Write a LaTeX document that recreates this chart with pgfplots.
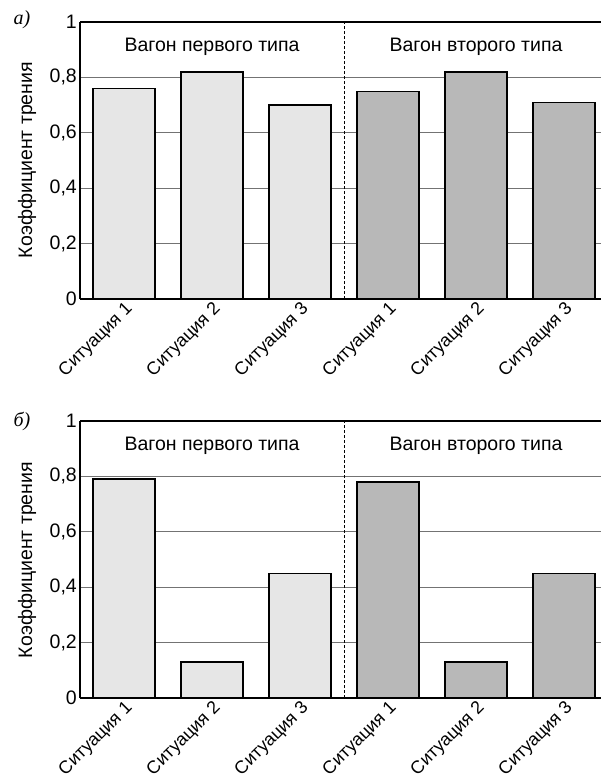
\documentclass[border=0pt]{standalone}
\usepackage{fontspec}
\setmainfont{Liberation Sans}
\newfontfamily\serifit{Liberation Serif}
\usepackage{pgfplots}
\pgfplotsset{compat=1.18}
\definecolor{lightbar}{HTML}{E6E6E6}
\definecolor{darkbar}{HTML}{B8B8B8}
\newcommand{\bigf}{\fontsize{19.5}{22}\selectfont}
\pgfplotsset{
  common/.style={
    scale only axis, width=521pt, height=277pt,
    xmin=-0.5, xmax=5.42, ymin=0, ymax=1,
    axis lines=left,
    axis line style={-, line width=1.5pt},
    clip=false,
    ytick={0,0.2,0.4,0.6,0.8,1},
    yticklabels={0,{0,2},{0,4},{0,6},{0,8},1},
    xtick={0,1,2,3,4,5},
    xticklabels={Ситуация 1,Ситуация 2,Ситуация 3,Ситуация 1,Ситуация 2,Ситуация 3},
    major tick length=0pt,
    ymajorgrids,
    major grid style={black!55, line width=0.8pt},
    y tick label style={font=\bigf, inner sep=3pt},
    x tick label style={font=\fontsize{18}{20}\selectfont, rotate=45, anchor=north east, inner sep=1pt},
    /pgf/number format/assume math mode=true,
  },
  lbar/.style={ybar, bar width=0.705, fill=lightbar, draw=black, line width=1.5pt},
  dbar/.style={ybar, bar width=0.705, fill=darkbar, draw=black, line width=1.5pt},
}
\begin{document}
\begin{tikzpicture}
\useasboundingbox (0,0) rectangle (601pt,-784pt);
\begin{axis}[common, at={(80pt,-299pt)}, anchor=south west]
\addplot[lbar] coordinates {(0,0.76) (1,0.82) (2,0.70)};
\addplot[dbar] coordinates {(3,0.75) (4,0.82) (5,0.71)};
\draw[line width=0.7pt, dash pattern=on 3pt off 2pt] (axis cs:2.5,0) -- (axis cs:2.5,1);
\draw[line width=1.5pt] (rel axis cs:0,1) -- (rel axis cs:1,1);
\node[font=\bigf] at (axis cs:1,0.91) {Вагон первого типа};
\node[font=\bigf] at (axis cs:4,0.91) {Вагон второго типа};
\end{axis}
\begin{axis}[common, at={(80pt,-698pt)}, anchor=south west]
\addplot[lbar] coordinates {(0,0.79) (1,0.13) (2,0.45)};
\addplot[dbar] coordinates {(3,0.78) (4,0.13) (5,0.45)};
\draw[line width=0.7pt, dash pattern=on 3pt off 2pt] (axis cs:2.5,0) -- (axis cs:2.5,1);
\draw[line width=1.5pt] (rel axis cs:0,1) -- (rel axis cs:1,1);
\node[font=\bigf] at (axis cs:1,0.91) {Вагон первого типа};
\node[font=\bigf] at (axis cs:4,0.91) {Вагон второго типа};
\end{axis}
\node[rotate=90, font=\bigf] at (27pt,-160pt) {Коэффициент трения};
\node[rotate=90, font=\bigf] at (27pt,-560pt) {Коэффициент трения};
\node[font=\serifit\itshape\fontsize{20}{22}\selectfont] at (22pt,-20pt) {а)};
\node[font=\serifit\itshape\fontsize{20}{22}\selectfont] at (22pt,-421pt) {б)};
\end{tikzpicture}
\end{document}
